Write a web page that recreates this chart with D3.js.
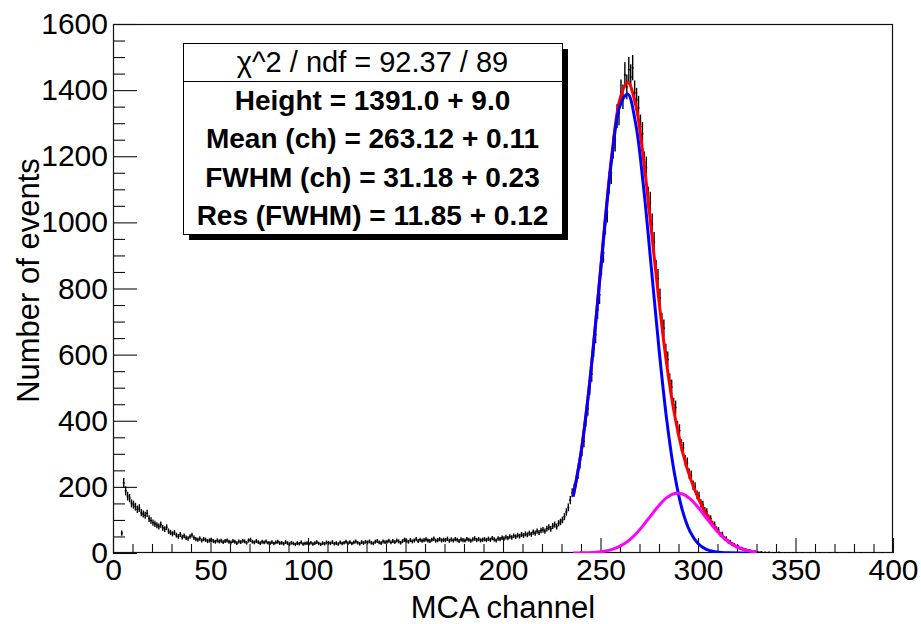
<!DOCTYPE html>
<html>
<head>
<meta charset="utf-8">
<script src="https://cdn.jsdelivr.net/npm/d3@7"></script>
<style>
  html, body { margin: 0; padding: 0; background: #fff; }
  svg { display: block; }
  text { font-family: "Liberation Sans", Arial, Helvetica, sans-serif; }
</style>
</head>
<body>
<svg id="chart" width="921" height="624"></svg>
<script>
// ---------------- data ----------------
// histogram counts, one bin per MCA channel (bin i covers [i, i+1))
const counts = [
  0,0,0,0,60,212,188,172,166,150,
  146,140,132,136,122,118,114,120,104,98,
  92,88,84,80,86,76,72,78,66,62,
  58,62,54,50,56,48,52,46,44,50,
  54,46,42,40,44,38,42,40,36,38,
  40,36,34,38,35,37,33,36,38,34,
  32,36,34,30,35,33,37,35,31,38,
  40,34,32,36,33,30,34,32,35,31,
  30,33,29,32,34,30,31,28,33,30,
  27,31,29,26,30,28,32,27,29,30,
  28,31,27,30,33,29,26,30,28,32,
  31,29,33,28,30,27,32,29,31,34,
  30,33,29,32,35,31,28,33,30,34,
  32,35,31,29,34,36,32,30,35,33,
  34,37,32,36,33,38,35,31,36,40,
  37,34,39,35,38,42,36,40,37,39,
  41,38,36,40,43,37,39,42,38,40,
  39,43,37,41,38,42,40,36,41,39,
  38,42,40,37,41,44,39,42,38,40,
  42,39,43,40,45,41,38,44,42,46,
  44,48,45,50,47,52,49,54,51,56,
  53,58,55,60,57,63,60,66,62,68,
  70,66,74,78,73,82,86,80,90,94,
  100,110,124,138,160,182,196,214,240,272,
  310,338,402,436,500,541,618,660,735,781,
  870,908,995,1032,1120,1150,1228,1250,1322,1330,
  1395,1380,1446,1410,1462,1440,1468,1392,1370,1346,
  1290,1268,1180,1165,1075,1060,995,940,858,830,
  772,700,680,608,585,520,502,448,440,380,
  370,326,318,280,272,240,234,205,200,176,
  172,150,146,128,124,106,104,88,86,72,
  70,56,57,45,44,35,34,27,26,19,
  20,14,15,10,11,7,8,5,6,3,
  4,2,3,1,2,1,2,0,1,1,
  0,2,1,0,1,0,1,0,1,0,
  1,0,0,1,0,0,0,1,0,0,
  0,0,1,0,0,0,0,1,0,0,
  0,1,0,0,0,0,0,1,0,0,
  0,0,0,1,0,0,0,0,0,1,
  0,0,0,0,1,0,0,0,0,0
];

// fit curves sampled along the channel axis
const fitX       = [236,240,244,248,252,256,260,264,268,272,276,280,284,288,292,296,300,304,308,312,316,320,324,328,330];
const fitTotal   = [170.9,303.2,491.3,727.1,983.0,1214.8,1373.5,1423.5,1356.6,1194.9,981.0,761.2,568.7,417.9,307.3,227.2,167.2,120.0,82.7,53.7,32.6,18.4,9.6,4.7,3.2];
const fitMain    = [170.7,302.8,490.3,724.6,977.6,1203.8,1352.9,1387.9,1299.7,1110.9,866.6,617.2,401.2,238.0,128.9,63.7,28.8,11.8,4.5,1.5,0.5,0.1,0.03,0,0];
const fitSecond  = [0.15,0.41,1.04,2.48,5.43,11.0,20.6,35.6,56.9,84.0,114.4,144.0,167.5,179.9,178.4,163.5,138.4,108.2,78.2,52.2,32.1,18.3,9.6,4.7,3.2];

const xMajorTicks = [0,50,100,150,200,250,300,350,400];
const yMajorTicks = [0,200,400,600,800,1000,1200,1400,1600];

const statsHeader = "\u03C7^2 / ndf = 92.37 / 89";
const statsLines = [
  "Height = 1391.0 + 9.0",
  "Mean (ch) = 263.12 + 0.11",
  "FWHM (ch) = 31.18 + 0.23",
  "Res (FWHM) = 11.85 + 0.12"
];

const xTitle = "MCA channel";
const yTitle = "Number of events";

// ---------------- layout ----------------
const svg = d3.select("#chart");
const L = 113, R = 893, T = 24, B = 553;

const x = d3.scaleLinear().domain([0, 400]).range([L, R]);
const y = d3.scaleLinear().domain([0, 1600]).range([B, T]);

const xMinor = d3.range(0, 401, 10).filter(v => v % 50 !== 0);
const yMinor = d3.range(0, 1601, 50).filter(v => v % 200 !== 0);

svg.append("defs").append("clipPath").attr("id", "plotclip")
  .append("rect").attr("x", L).attr("y", T).attr("width", R - L).attr("height", B - T);

// x axis
const gx = svg.append("g").attr("transform", `translate(0,${B})`);
gx.call(d3.axisBottom(x).tickValues(xMajorTicks).tickSize(-15).tickSizeOuter(0).tickPadding(6).tickFormat(d3.format("d")));
const gxm = svg.append("g").attr("transform", `translate(0,${B})`);
gxm.call(d3.axisBottom(x).tickValues(xMinor).tickSize(-9).tickSizeOuter(0).tickFormat(""));

// y axis
const gy = svg.append("g").attr("transform", `translate(${L},0)`);
gy.call(d3.axisLeft(y).tickValues(yMajorTicks).tickSize(-24).tickSizeOuter(0).tickPadding(5).tickFormat(d3.format("d")));
const gym = svg.append("g").attr("transform", `translate(${L},0)`);
gym.call(d3.axisLeft(y).tickValues(yMinor).tickSize(-12).tickSizeOuter(0).tickFormat(""));

[gx, gxm, gy, gym].forEach(g => {
  g.select(".domain").remove();
  g.selectAll(".tick line").attr("stroke", "#111").attr("stroke-width", 1.1);
  g.selectAll(".tick text").attr("font-size", 30).attr("fill", "#000")
    .style("font-family", '"Liberation Sans", Arial, sans-serif');
});

// frame
svg.append("rect")
  .attr("x", L + 0.5).attr("y", T + 0.5)
  .attr("width", R - L - 1).attr("height", B - T - 1)
  .attr("fill", "none").attr("stroke", "#111").attr("stroke-width", 1.2);

// axis titles
svg.append("text")
  .attr("x", (L + R) / 2).attr("y", 618)
  .attr("text-anchor", "middle").attr("font-size", 31).attr("fill", "#000")
  .text(xTitle);

svg.append("text")
  .attr("transform", `translate(39,${(T + B) / 2 - 8}) rotate(-90)`)
  .attr("text-anchor", "middle").attr("font-size", 31).attr("fill", "#000")
  .text(yTitle);

// histogram with error bars
const plot = svg.append("g").attr("clip-path", "url(#plotclip)");
const bins = counts.map((v, i) => ({ i, v })).filter(d => d.v > 0);
const hg = plot.append("g").attr("stroke", "#000").attr("stroke-width", 1.4);
hg.selectAll("line.h").data(bins).join("line").attr("class", "h")
  .attr("x1", d => x(d.i)).attr("x2", d => x(d.i + 1))
  .attr("y1", d => y(d.v)).attr("y2", d => y(d.v));
hg.selectAll("line.v").data(bins).join("line").attr("class", "v")
  .attr("x1", d => x(d.i + 0.5)).attr("x2", d => x(d.i + 0.5))
  .attr("y1", d => y(d.v - Math.sqrt(d.v))).attr("y2", d => y(d.v + Math.sqrt(d.v)));

// fit curves
const mkLine = arr => d3.line()
  .x((d, k) => x(fitX[k]))
  .y(d => y(d))
  .curve(d3.curveCatmullRom)(arr);

plot.append("path").attr("d", mkLine(fitTotal))
  .attr("fill", "none").attr("stroke", "#ff0000").attr("stroke-width", 3);
plot.append("path").attr("d", mkLine(fitMain))
  .attr("fill", "none").attr("stroke", "#0000ff").attr("stroke-width", 3);
plot.append("path").attr("d", mkLine(fitSecond))
  .attr("fill", "none").attr("stroke", "#ff00ff").attr("stroke-width", 3);

// stats box
const bx = 183, by = 43, bw = 379, bh = 191, divY = 81;
svg.append("rect").attr("x", bx + 6).attr("y", by + 6).attr("width", bw).attr("height", bh).attr("fill", "#000");
svg.append("rect").attr("x", bx + 0.5).attr("y", by + 0.5).attr("width", bw).attr("height", bh)
  .attr("fill", "#fff").attr("stroke", "#000").attr("stroke-width", 1);
svg.append("line").attr("x1", bx).attr("x2", bx + bw).attr("y1", divY + 0.5).attr("y2", divY + 0.5)
  .attr("stroke", "#000").attr("stroke-width", 1);

const cx = bx + bw / 2;
svg.append("text").attr("x", cx).attr("y", (by + divY) / 2).attr("dy", "0.36em")
  .attr("text-anchor", "middle").attr("font-size", 29).attr("fill", "#000")
  .text(statsHeader);

const rowH = (by + bh - divY) / statsLines.length;
svg.append("g").selectAll("text").data(statsLines).join("text")
  .attr("x", cx).attr("y", (d, k) => divY + rowH * (k + 0.5)).attr("dy", "0.36em")
  .attr("text-anchor", "middle").attr("font-size", 28).attr("font-weight", "bold").attr("fill", "#000")
  .text(d => d);
</script>
</body>
</html>
